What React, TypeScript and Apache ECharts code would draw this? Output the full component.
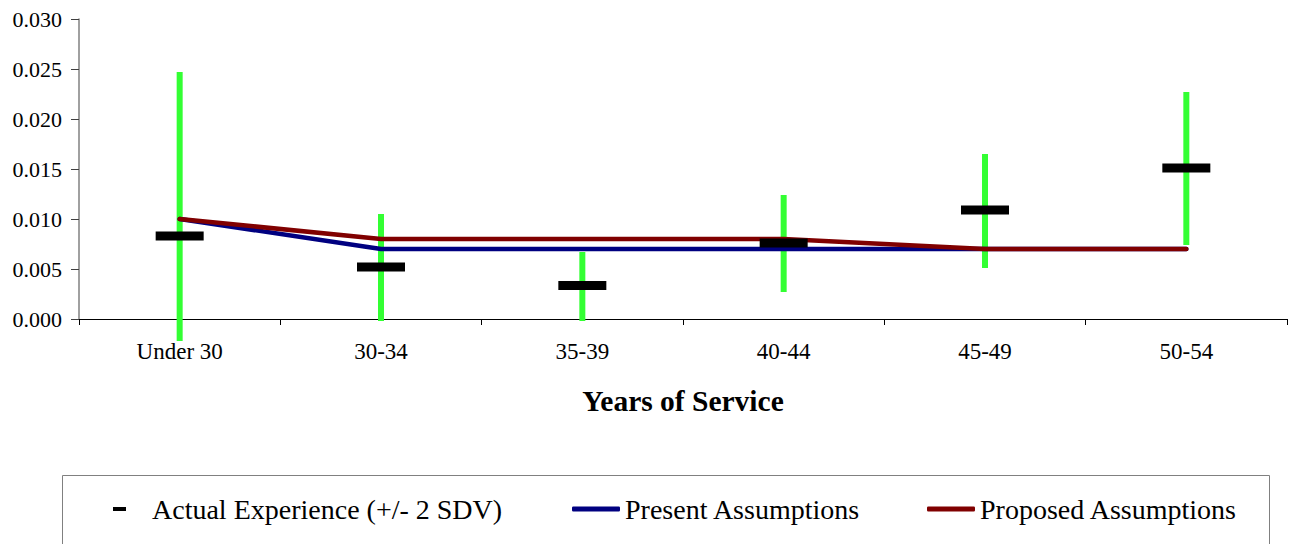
import React, { useEffect, useRef } from "react";
import * as echarts from "echarts";

const categories = ["Under 30", "30-34", "35-39", "40-44", "45-49", "50-54"];
const actualExperience = [0.0083, 0.0052, 0.00335, 0.0076, 0.0109, 0.0151];
const errorLow = [-0.0022, -0.0002, -0.0002, 0.0027, 0.0051, 0.0074];
const errorHigh = [0.0247, 0.0105, 0.0067, 0.0124, 0.0165, 0.0227];
const presentAssumptions = [0.01, 0.007, 0.007, 0.007, 0.007, 0.007];
const proposedAssumptions = [0.01, 0.008, 0.008, 0.008, 0.007, 0.007];

const FONT = "'Liberation Serif', 'Times New Roman', serif";

export default function App() {
  const ref = useRef<HTMLDivElement>(null);

  useEffect(() => {
    if (!ref.current) return;
    const chart = echarts.init(ref.current, undefined, { renderer: "svg" });
    const errorData = categories.map((_, i) => [i, errorLow[i], errorHigh[i]]);

    chart.setOption({
      animation: false,
      backgroundColor: "#ffffff",
      textStyle: { fontFamily: FONT },
      grid: { left: 79, right: 8, top: 19, bottom: 225, containLabel: false },
      xAxis: {
        type: "category",
        data: categories,
        boundaryGap: true,
        name: "Years of Service",
        nameLocation: "middle",
        nameGap: 67,
        nameTextStyle: { fontFamily: FONT, fontSize: 29.5, fontWeight: "bold", color: "#000" },
        axisLine: { lineStyle: { color: "#000", width: 1 } },
        axisTick: { show: true, length: 6, lineStyle: { color: "#000" } },
        axisLabel: { fontFamily: FONT, fontSize: 23, color: "#000", margin: 21 },
        splitLine: { show: false },
      },
      yAxis: {
        type: "value",
        min: 0,
        max: 0.03,
        interval: 0.005,
        axisLine: { show: true, lineStyle: { color: "#808080", width: 1.5 } },
        axisTick: { show: true, length: 8, lineStyle: { color: "#404040" } },
        axisLabel: {
          fontFamily: FONT,
          fontSize: 22,
          color: "#000",
          margin: 17,
          formatter: (v: number) => v.toFixed(3),
        },
        splitLine: { show: false },
      },
      legend: [
        {
          data: ["Actual Experience (+/- 2 SDV)"],
          left: 108,
          top: 490,
          icon: "rect",
          itemWidth: 13,
          itemHeight: 4,
          itemStyle: { color: "#000", opacity: 1 },
          textStyle: { fontFamily: FONT, fontSize: 28, color: "#000", padding: [0, 0, 0, 21] },
        },
        {
          data: ["Present Assumptions"],
          left: 567,
          top: 490,
          icon: "roundRect",
          itemWidth: 48,
          itemHeight: 5,
          textStyle: { fontFamily: FONT, fontSize: 28, color: "#000" },
        },
        {
          data: ["Proposed Assumptions"],
          left: 922,
          top: 490,
          icon: "roundRect",
          itemWidth: 48,
          itemHeight: 5,
          textStyle: { fontFamily: FONT, fontSize: 28, color: "#000" },
        },
      ],
      graphic: [
        {
          type: "rect",
          shape: { x: 62.5, y: 475.5, width: 1207, height: 90 },
          style: { fill: "none", stroke: "#808080", lineWidth: 1 },
          silent: true,
          z: -1,
        },
      ],
      series: [
        {
          name: "Error",
          type: "custom",
          z: 1,
          clip: false,
          data: errorData,
          renderItem: (params: any, api: any) => {
            const x = api.value(0);
            const top = api.coord([x, api.value(2)]);
            const bottom = api.coord([x, api.value(1)]);
            const w = 6;
            return {
              type: "rect",
              shape: { x: top[0] - w / 2, y: top[1], width: w, height: bottom[1] - top[1] },
              style: { fill: "#33FF33" },
            };
          },
        },
        {
          name: "Present Assumptions",
          type: "line",
          z: 2,
          data: presentAssumptions,
          symbol: "none",
          color: "#000080",
          lineStyle: { color: "#000080", width: 4.5, cap: "round", join: "round" },
        },
        {
          name: "Proposed Assumptions",
          type: "line",
          z: 3,
          data: proposedAssumptions,
          symbol: "none",
          color: "#800000",
          lineStyle: { color: "#800000", width: 4.5, cap: "round", join: "round" },
        },
        {
          name: "Actual Experience (+/- 2 SDV)",
          type: "scatter",
          z: 4,
          data: actualExperience,
          symbol: "rect",
          symbolSize: [48, 9],
          color: "#000",
          itemStyle: { color: "#000", opacity: 1 },
        },
      ],
    });

    return () => chart.dispose();
  }, []);

  return (
    <div
      ref={ref}
      style={{ position: "absolute", left: 0, top: 0, width: 1295, height: 544 }}
    />
  );
}
